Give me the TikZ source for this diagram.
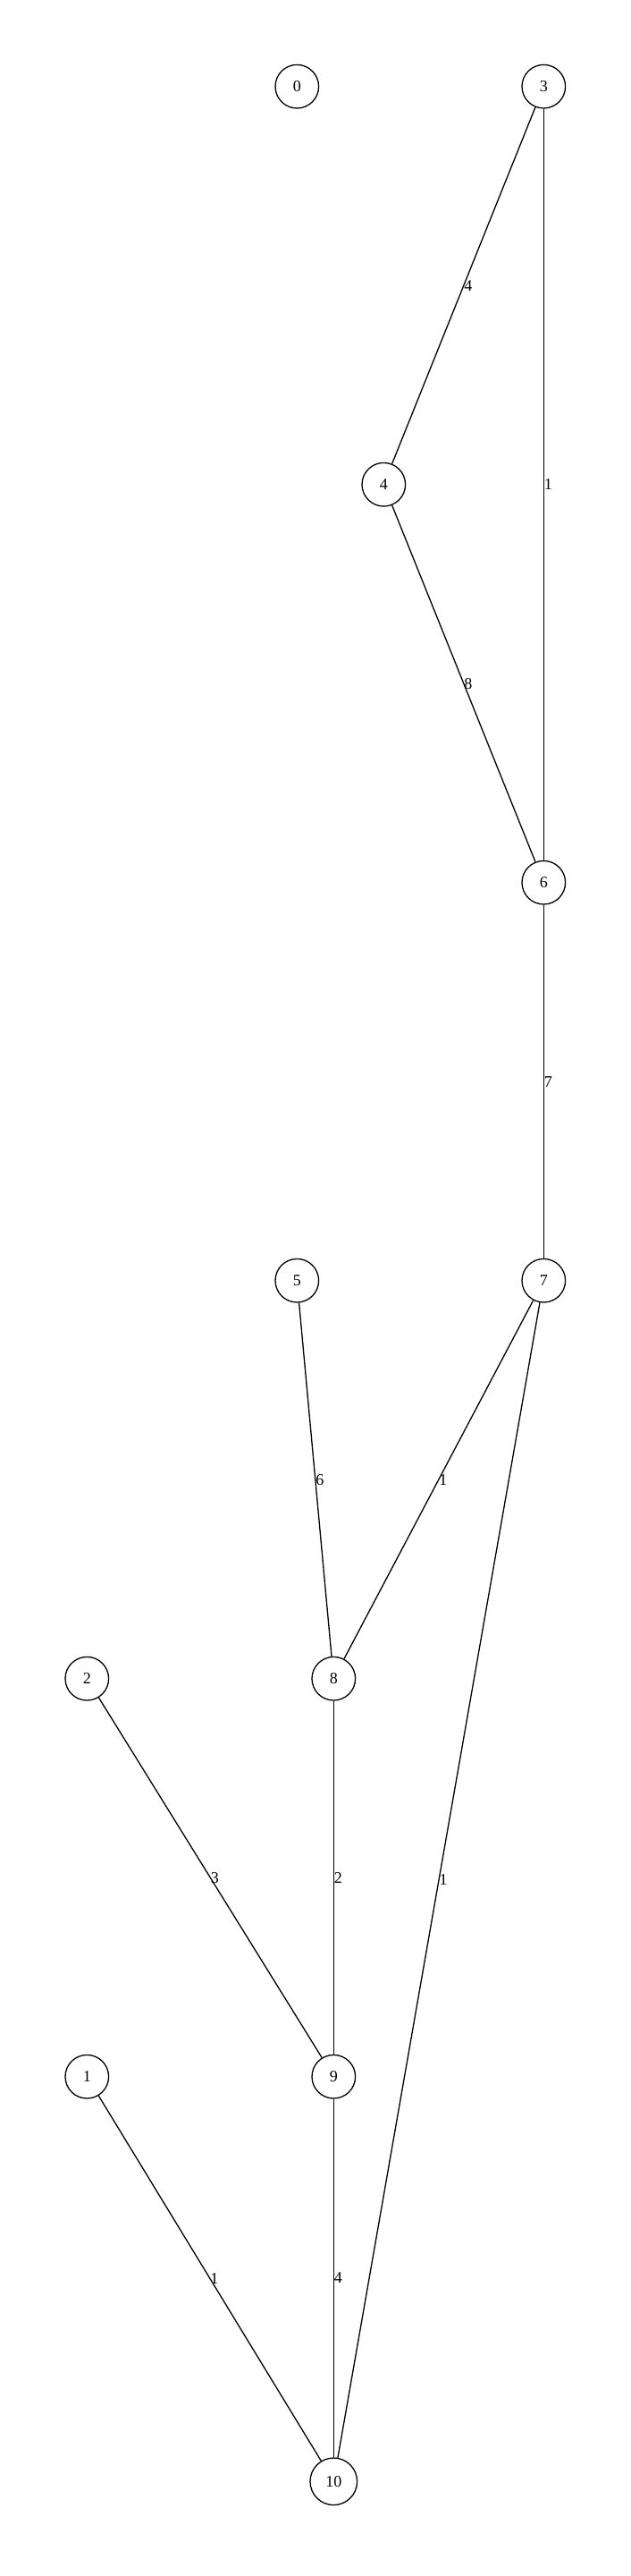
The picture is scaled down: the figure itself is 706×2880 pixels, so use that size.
\documentclass[tikz,border=0pt]{standalone}
\usepackage{fontspec}
\setmainfont{Liberation Serif}
\begin{document}
\begin{tikzpicture}[x=1pt,y=-1pt,
  vert/.style={draw, circle, line width=1.3pt, minimum size=48.6pt, inner sep=0pt, font=\fontsize{18}{20}\selectfont},
  bigvert/.style={vert, minimum size=52.6pt},
  edge/.style={line width=1.3pt},
  elabel/.style={anchor=west, inner sep=0pt, font=\fontsize{18}{20}\selectfont}]
\useasboundingbox (0,0) rectangle (706,2880);
\node[vert] (n0) at (332.3,96.7) {0};
\node[vert] (n3) at (608.3,96.7) {3};
\node[vert] (n4) at (429.3,541.7) {4};
\node[vert] (n6) at (608.3,986.7) {6};
\node[vert] (n5) at (332.3,1431.7) {5};
\node[vert] (n7) at (608.3,1431.7) {7};
\node[vert] (n2) at (97.3,1876.7) {2};
\node[vert] (n8) at (373.3,1876.7) {8};
\node[vert] (n1) at (97.3,2321.7) {1};
\node[vert] (n9) at (373.3,2321.7) {9};
\node[bigvert] (n10) at (373.3,2774.3) {10};
\draw[edge] (n3) -- node[elabel] {4} (n4);
\draw[edge] (n3) -- node[elabel] {1} (n6);
\draw[edge] (n4) -- node[elabel] {8} (n6);
\draw[edge] (n6) -- node[elabel] {7} (n7);
\draw[edge] (n5) -- node[elabel] {6} (n8);
\draw[edge] (n7) -- node[elabel] {1} (n8);
\draw[edge] (n7) -- node[elabel] {1} (n10);
\draw[edge] (n2) -- node[elabel] {3} (n9);
\draw[edge] (n8) -- node[elabel] {2} (n9);
\draw[edge] (n1) -- node[elabel] {1} (n10);
\draw[edge] (n9) -- node[elabel] {4} (n10);
\end{tikzpicture}
\end{document}
